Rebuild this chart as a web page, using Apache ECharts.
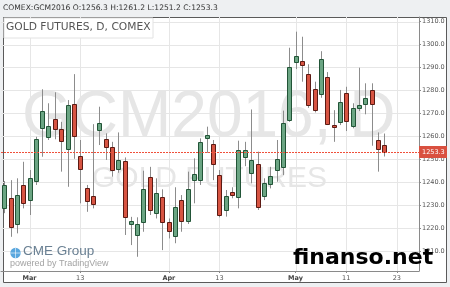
<!DOCTYPE html>
<html>
<head>
<meta charset="utf-8">
<script src="https://cdn.jsdelivr.net/npm/echarts@6/dist/echarts.min.js"></script>
<style>
html,body{margin:0;padding:0;background:#eef0f2;}
#c{width:450px;height:287px;}
</style>
</head>
<body>
<div id="c"></div>
<script>
var dates = ['Feb 24','Feb 25','Feb 26','Feb 29','Mar 1','Mar 2','Mar 3','Mar 4','Mar 7','Mar 8','Mar 9','Mar 10','Mar 11',
 'Mar 14','Mar 15','Mar 16','Mar 17','Mar 18','Mar 21','Mar 22','Mar 23','Mar 24','Mar 28','Mar 29','Mar 30','Mar 31','Apr 1',
 'Apr 4','Apr 5','Apr 6','Apr 7','Apr 8','Apr 11','Apr 12','Apr 13','Apr 14','Apr 15','Apr 18','Apr 19','Apr 20','Apr 21','Apr 22',
 'Apr 25','Apr 26','Apr 27','Apr 28','Apr 29','May 2','May 3','May 4','May 5','May 6','May 9','May 10','May 11','May 12','May 13',
 'May 16','May 17','May 18','May 19','May 20','May 23','May 24','May 25','May 26'];
var opens  = [1228.9,1233.2,1221.8,1238.8,1232.2,1240.6,1263.7,1259.8,1267.5,1263.0,1254.4,1273.9,1251.5,
 1237.3,1234.0,1262.4,1258.7,1255.2,1245.6,1249.2,1221.5,1217.0,1222.5,1242.4,1226.4,1233.7,1222.5,
 1216.5,1232.2,1223.2,1240.9,1240.9,1259.1,1256.6,1243.2,1227.9,1235.8,1233.4,1250.8,1243.9,1247.9,1233.7,
 1239.2,1245.0,1246.7,1267.1,1292.5,1292.8,1287.3,1280.6,1278.4,1286.0,1265.0,1266.3,1278.7,1264.2,1272.4,
 1274.1,1280.0,1258.4,1256.3];
var closes = [1238.8,1220.6,1234.4,1230.8,1241.9,1258.7,1271.1,1264.5,1263.3,1257.6,1273.5,1260.1,1245.7,
 1231.5,1230.3,1265.6,1255.0,1245.3,1249.7,1224.9,1222.9,1221.6,1237.0,1228.2,1235.1,1222.8,1218.7,
 1229.0,1223.2,1237.0,1243.4,1257.4,1260.5,1247.8,1225.7,1234.0,1234.4,1254.0,1254.0,1249.7,1229.3,1239.5,
 1242.7,1250.0,1266.0,1290.0,1295.1,1291.0,1273.6,1271.4,1293.7,1265.6,1264.2,1275.1,1266.3,1272.2,1273.6,
 1276.5,1273.9,1254.3,1253.3];
var lows   = [1226.5,1216.2,1217.7,1228.6,1225.7,1238.8,1251.1,1258.4,1258.7,1244.6,1238.0,1250.2,1230.8,
 1227.1,1228.6,1256.2,1249.7,1242.4,1244.1,1217.0,1212.6,1207.5,1218.4,1225.7,1224.2,1210.4,1215.5,
 1213.4,1218.4,1221.8,1230.8,1238.8,1252.8,1240.9,1224.7,1225.0,1233.0,1228.6,1247.0,1239.5,1227.9,1232.2,
 1237.3,1240.2,1243.1,1266.3,1289.3,1283.8,1272.4,1270.4,1276.8,1264.9,1257.6,1264.9,1262.3,1263.5,1271.0,
 1269.6,1255.9,1244.6,1251.2];
var highs  = [1240.5,1240.9,1241.7,1248.9,1245.3,1259.8,1280.5,1274.4,1279.2,1266.3,1275.8,1287.1,1258.4,
 1238.8,1265.3,1272.9,1261.3,1257.6,1261.7,1250.8,1224.9,1224.7,1245.0,1246.7,1241.7,1236.9,1224.2,
 1237.8,1234.4,1244.6,1250.4,1259.1,1264.2,1258.4,1245.3,1236.6,1237.8,1258.1,1257.6,1271.7,1253.3,1241.7,
 1246.7,1258.4,1271.2,1298.6,1305.6,1303.4,1291.4,1283.8,1297.1,1288.0,1271.4,1280.2,1281.6,1274.4,1289.9,
 1283.1,1283.1,1261.7,1261.2];
var yTicks = [1210,1220,1230,1240,1250,1260,1270,1280,1290,1300,1310];
var xTickIdx = [4,12,26,34,46,54,62];
var xTickText = ['Mar','13','Apr','13','May','11','23'];
var monthLabels = ['Mar','Apr','May'];
var symbolName = 'COMEX:GCM2016';
var titleText = 'GOLD FUTURES, D, COMEX';
var lastPrice = 1253.3;

var UP_FILL = '#6ba583', UP_LINE = '#225437', DN_FILL = '#d75442', DN_LINE = '#5b1a13', WICK = '#8c8c8c';
var GRID = '#e6e6e6', PRICE_RED = '#f0503a';

var ohlc = opens.map(function (o, i) { return [i, o, closes[i], lows[i], highs[i]]; });
var n = opens.length - 1;
var header = symbolName + ' O:' + opens[n].toFixed(1) + ' H:' + highs[n].toFixed(1) +
  ' L:' + lows[n].toFixed(1) + ' C:' + closes[n].toFixed(1);

var chart = echarts.init(document.getElementById('c'), null, {renderer: 'canvas'});

function renderCandle(params, api) {
  var x = api.value(0), o = api.value(1), c = api.value(2), l = api.value(3), h = api.value(4);
  var pO = api.coord([x, o]), pC = api.coord([x, c]), pL = api.coord([x, l]), pH = api.coord([x, h]);
  var w = Math.round(api.size([1, 0])[0] * 0.62);
  var cx = Math.round(pO[0]);
  var up = c >= o;
  var top = Math.round(Math.min(pO[1], pC[1])) + 0.5;
  var ht = Math.max(Math.round(Math.abs(pO[1] - pC[1])), 1);
  return {
    type: 'group',
    children: [
      {type: 'line', shape: {x1: cx + 0.5, y1: pH[1], x2: cx + 0.5, y2: pL[1]},
        style: {stroke: WICK, lineWidth: 1}},
      {type: 'rect', shape: {x: cx - Math.floor(w / 2) + 0.5, y: top, width: w, height: ht},
        style: {fill: up ? UP_FILL : DN_FILL, stroke: up ? UP_LINE : DN_LINE, lineWidth: 1}}
    ]
  };
}
function renderHGrid(params, api) {
  var cs = params.coordSys;
  var y = Math.round(api.coord([0, api.value(1)])[1]) + 0.5;
  return {type: 'line', shape: {x1: cs.x, y1: y, x2: cs.x + cs.width, y2: y}, style: {stroke: GRID, lineWidth: 1}};
}
function renderVGrid(params, api) {
  var cs = params.coordSys;
  var x = Math.round(api.coord([api.value(0), 1250])[0]) + 0.5;
  return {type: 'line', shape: {x1: x, y1: cs.y, x2: x, y2: cs.y + cs.height}, style: {stroke: GRID, lineWidth: 1}};
}
function renderPriceLine(params, api) {
  var cs = params.coordSys;
  var v = api.value(1);
  var y = Math.round(api.coord([0, v])[1]) + 0.5;
  var right = cs.x + cs.width;
  return {
    type: 'group',
    children: [
      {type: 'line', shape: {x1: cs.x, y1: y, x2: right, y2: y},
        style: {stroke: PRICE_RED, lineWidth: 1, lineDash: [2, 1]}},
      {type: 'rect', shape: {x: right, y: y - 6.5, width: 28, height: 12}, style: {fill: '#d9503f'}},
      {type: 'text', x: right + 3, y: y, style: {text: v.toFixed(1), fill: '#ffffff',
        font: '6.5px "DejaVu Sans"', verticalAlign: 'middle', align: 'left'}}
    ]
  };
}

var option = {
  animation: false,
  backgroundColor: 'transparent',
  grid: {left: 1, right: 31, top: 17, bottom: 16, show: false},
  graphic: [
    {type: 'rect', z: -10, shape: {x: 3.5, y: 17.5, width: 443, height: 265}, style: {fill: '#ffffff', stroke: '#5a5a5a', lineWidth: 1}},
    {type: 'text', z: -5, left: 22, top: 86, style: {text: 'GCM2016, D', font: '64px "Liberation Sans"', fill: '#e6e6e6'}},
    {type: 'text', z: -5, left: 92, top: 164, style: {text: 'GOLD FUTURES', font: '30px "Liberation Sans"', fill: '#e6e6e6'}},
    {type: 'rect', z: 50, shape: {x: 4, y: 18, width: 149, height: 20}, style: {fill: '#ffffff', stroke: '#e2e2e2', lineWidth: 1}},
    {type: 'text', z: 51, left: 6, top: 22, style: {text: titleText, font: '10.7px "DejaVu Sans"', fill: '#555555'}},
    {type: 'text', z: 51, left: 3, top: 4, style: {text: header, font: '7.6px "DejaVu Sans"', fill: '#333333'}},
    {type: 'circle', z: 51, shape: {cx: 15.5, cy: 253, r: 5.2}, style: {fill: '#5aa7de'}},
    {type: 'line', z: 52, shape: {x1: 10.5, y1: 253, x2: 20.5, y2: 253}, style: {stroke: '#ffffff', lineWidth: 0.6}},
    {type: 'line', z: 52, shape: {x1: 15.5, y1: 248, x2: 15.5, y2: 258}, style: {stroke: '#ffffff', lineWidth: 0.6}},
    {type: 'text', z: 51, left: 23, top: 244, style: {text: 'CME Group', font: '13.5px "Liberation Sans"', fill: '#6a8093'}},
    {type: 'text', z: 51, left: 10, top: 259, style: {text: 'powered by TradingView', font: '9px "Liberation Sans"', fill: '#a3a3a3'}},
    {type: 'text', z: 60, left: 293, top: 247, style: {text: 'finanso.net', font: 'bold 22px "DejaVu Sans"', fill: '#000000'}}
  ],
  xAxis: {
    type: 'category',
    data: dates,
    boundaryGap: true,
    axisLine: {lineStyle: {color: '#8a8a8a'}},
    axisTick: {show: true, length: 2, alignWithLabel: true, lineStyle: {color: '#8a8a8a'},
      interval: function (i) { return xTickIdx.indexOf(i) >= 0; }},
    axisLabel: {
      interval: function (i) { return xTickIdx.indexOf(i) >= 0; },
      margin: 4,
      formatter: function (v, i) {
        var t = xTickText[xTickIdx.indexOf(i)];
        return monthLabels.indexOf(t) >= 0 ? '{m|' + t + '}' : '{d|' + t + '}';
      },
      rich: {
        m: {fontFamily: 'DejaVu Sans', fontSize: 6.5, fontWeight: 'bold', color: '#444'},
        d: {fontFamily: 'DejaVu Sans', fontSize: 6.5, color: '#555'}
      }
    },
    splitLine: {show: false}
  },
  yAxis: {
    type: 'value',
    position: 'right',
    min: 1201.3,
    max: 1312,
    scale: true,
    axisLine: {show: true, lineStyle: {color: '#8a8a8a'}},
    axisTick: {show: true, length: 2, customValues: yTicks, lineStyle: {color: '#8a8a8a'}},
    axisLabel: {customValues: yTicks, margin: 3, fontFamily: 'DejaVu Sans', fontSize: 6.5, color: '#555',
      formatter: function (v) { return v.toFixed(1); }},
    splitLine: {show: false}
  },
  series: [
    {
      type: 'custom', z: 1, silent: true, renderItem: renderHGrid, clip: false,
      encode: {x: 0, y: 1}, data: yTicks.map(function (v) { return [0, v]; })
    },
    {
      type: 'custom', z: 1, silent: true, renderItem: renderVGrid, clip: false,
      encode: {x: 0, y: 1}, data: xTickIdx.map(function (i) { return [i, 1250]; })
    },
    {
      type: 'custom', z: 5,
      renderItem: renderCandle,
      encode: {x: 0, y: [1, 2, 3, 4]},
      data: ohlc
    },
    {
      type: 'custom', z: 6, silent: true, renderItem: renderPriceLine, clip: false,
      encode: {x: 0, y: 1}, data: [[0, lastPrice]]
    }
  ]
};
chart.setOption(option);
</script>
</body>
</html>
